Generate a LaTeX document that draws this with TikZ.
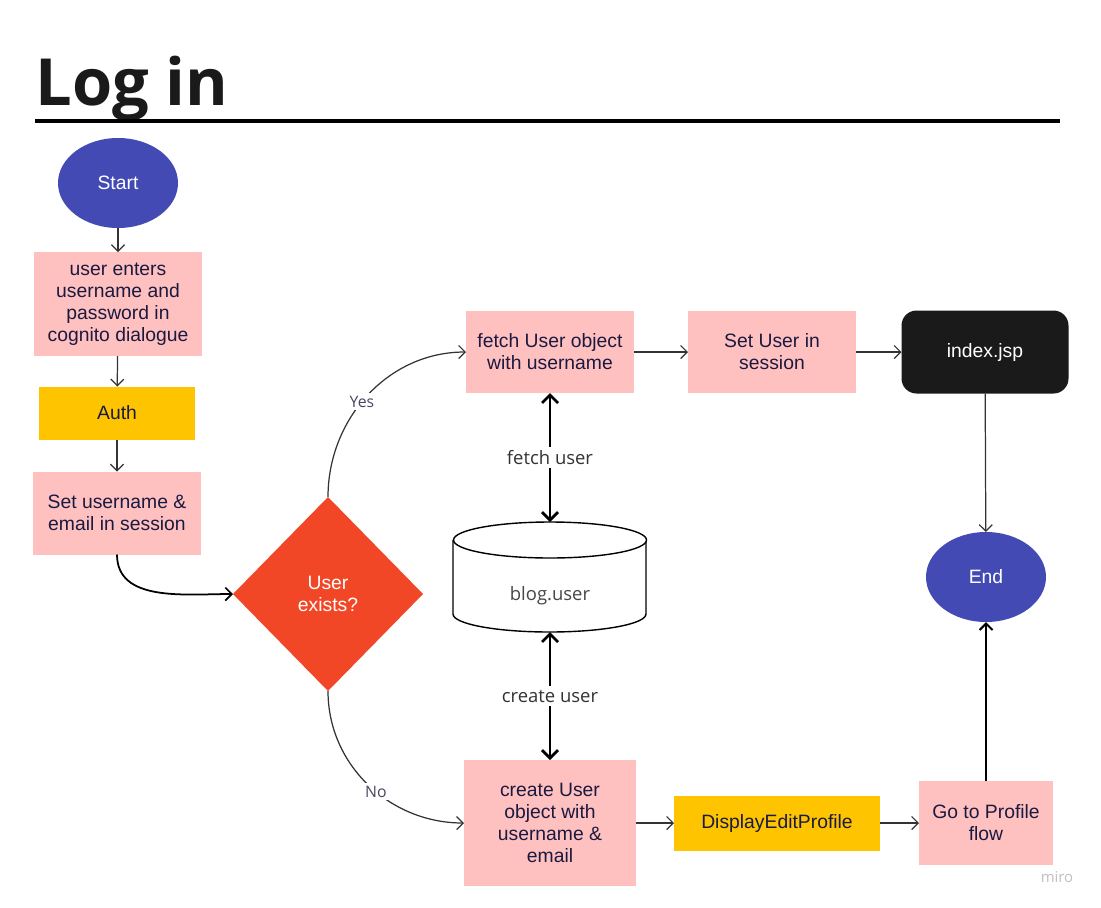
\documentclass[tikz,border=0pt]{standalone}
\usepackage{fontspec}
\setmainfont{Liberation Sans}
\newfontfamily\opensans{Open Sans}
\usepackage{tikz}
\usetikzlibrary{arrows.meta,positioning,shapes.geometric}
\definecolor{boxpink}{HTML}{FFC0C0}
\definecolor{boxyellow}{HTML}{FFC400}
\definecolor{startblue}{HTML}{434AB4}
\definecolor{decired}{HTML}{F24726}
\definecolor{jspblack}{HTML}{1A1A1A}
\definecolor{navytext}{HTML}{1A1A40}
\definecolor{lineg}{HTML}{333333}
\begin{document}
\begin{tikzpicture}[x=0.2mm,y=-0.2mm,
 s/.style={inner sep=0pt,outer sep=0pt,align=center,text=navytext,font=\fontsize{11}{12.5}\selectfont},
 pink/.style={s,fill=boxpink},
 yell/.style={s,fill=boxyellow},
 oval/.style={s,ellipse,fill=startblue,text=white,minimum width=24mm,minimum height=18mm},
 thin/.style={-{Straight Barb[length=1.3mm,width=2.6mm]},line width=0.7pt,draw=lineg},
 dbl/.style={{Straight Barb[length=1.6mm,width=3.2mm]}-{Straight Barb[length=1.6mm,width=3.2mm]},line width=1.6pt},
 lbl/.style={fill=white,inner sep=2pt,text=lineg,font=\opensans\fontsize{10.5}{12}\selectfont},
 yn/.style={fill=white,inner sep=1.5pt,text=navytext!80,font=\opensans\fontsize{9}{10}\selectfont}]
\useasboundingbox (0,0) rectangle (1101,907);
% title
\node[anchor=base west,inner sep=0pt,text=jspblack,font=\opensans\bfseries\fontsize{37}{40}\selectfont] (title) at (35,105) {Log in};
\draw[line width=2.3pt] (35,121) -- (1060,121);
% left column
\node[oval] (start) at (118,183) {Start};
\node[pink,minimum width=33.6mm,minimum height=20.8mm] (enter) at (118,304) {user enters\\username and\\password in\\cognito dialogue};
\node[yell,minimum width=31mm,minimum height=10.6mm] (auth) at (117,413) {Auth};
\node[pink,minimum width=33.6mm,minimum height=16.6mm] (setsess) at (117,513) {Set username \&\\email in session};
\node[s,diamond,aspect=1,fill=decired,text=white,minimum width=38mm,minimum height=38.8mm] (exists) at (328,594) {User\\exists?};
% top row
\node[pink,minimum width=33.6mm,minimum height=16.4mm] (fetch) at (550,352) {fetch User object\\with username};
\node[pink,minimum width=33.6mm,minimum height=16.4mm] (setuser) at (772,352) {Set User in\\session};
\node[s,fill=jspblack,text=white,rounded corners=3mm,minimum width=33.4mm,minimum height=16.6mm] (index) at (985,352) {index.jsp};
% database
\node[s,minimum width=38.6mm,minimum height=22mm] (db) at (550,577) {};
\draw[line width=0.8pt,fill=white] (453,540) -- (453,614) arc[start angle=180,end angle=0,x radius=96.5,y radius=18] -- (646,540);
\draw[line width=0.8pt,fill=white] (550,540) ellipse[x radius=96.5,y radius=18];
\node[text=lineg!90,font=\opensans\fontsize{10.5}{12}\selectfont] (dbname) at (550,596) {blog.user};
\node[oval] (end) at (986,577) {End};
% bottom row
\node[pink,minimum width=34.4mm,minimum height=25.2mm] (create) at (550,823) {create User\\object with\\username \&\\email};
\node[yell,minimum width=41.2mm,minimum height=11mm] (display) at (777,823) {DisplayEditProfile};
\node[pink,minimum width=26.8mm,minimum height=16.8mm] (goto) at (986,823) {Go to Profile\\flow};
\node[text=black!25,font=\opensans\fontsize{8.5}{10}\selectfont] (miro) at (1057,877) {miro};
% connectors
\draw[thin] (start) -- (enter);
\draw[thin] (enter) -- (auth);
\draw[thin] (auth) -- (setsess);
\draw[thin,draw=black,line width=1pt] (setsess.south) to[out=-90,in=180] (exists.west);
\draw[thin] (exists.north) to[out=90,in=180] node[yn,pos=0.46] {Yes} (fetch.west);
\draw[thin] (exists.south) to[out=-90,in=180] node[yn,pos=0.55] {No} (create.west);
\draw[thin] (fetch) -- (setuser);
\draw[thin] (setuser) -- (index);
\draw[thin] (index) -- (end);
\draw[dbl] (fetch.south) -- node[lbl] {fetch user} (db.north);
\draw[dbl] (db.south) -- node[lbl] {create user} (create.north);
\draw[thin] (create) -- (display);
\draw[thin] (display) -- (goto);
\draw[thin,draw=black,line width=1.2pt] (goto) -- (end);
\end{tikzpicture}
\end{document}
